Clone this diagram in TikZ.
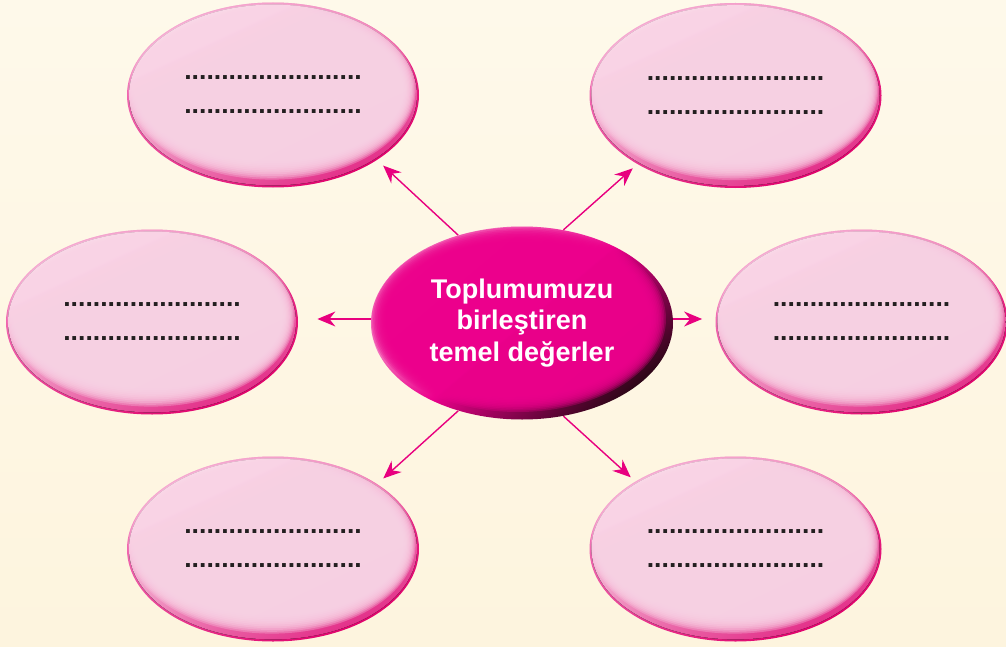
\documentclass[tikz,border=0pt]{standalone}
\usepackage{fontspec}
\setmainfont{Liberation Sans}
\usepackage{tikz}
\usetikzlibrary{arrows.meta,shapes.geometric,positioning}

\definecolor{bgtop}{HTML}{FEF9EA}
\definecolor{bgbot}{HTML}{FDF1D6}
\definecolor{petalbg}{HTML}{F9D3E5}
\definecolor{petaledgetop}{HTML}{F27DBD}
\definecolor{petaledgebot}{HTML}{E0006B}
\definecolor{petalrimtop}{HTML}{FDF2F7}
\definecolor{petalrimbot}{HTML}{E22A86}
\definecolor{hubmain}{HTML}{EC008C}
\definecolor{hubhi}{HTML}{FAC0DE}
\definecolor{hubdark}{HTML}{2E0618}
\definecolor{arrowpink}{HTML}{E8007F}
\definecolor{dotgray}{HTML}{231F20}

\newcommand{\dline}{........................}

\tikzset{
  petal/.style={ellipse, minimum width=146pt, minimum height=92.5pt, inner sep=0pt,
    top color=petaledgetop, bottom color=petaledgebot, shading angle=30,
    path picture={
      \fill[top color=petalrimtop, bottom color=petalrimbot, shading angle=25]
        (path picture bounding box.center) ellipse [x radius=72pt, y radius=45.2pt];
      \foreach \k in {0,...,10}
        \fill[petalbg, fill opacity=0.3] ([shift={(-0.5pt,2.5pt)}]path picture bounding box.center)
          ellipse [x radius={71.8pt-\k*0.6pt}, y radius={44.8pt-\k*0.9pt}];
    },
    text=dotgray, font=\bfseries\fontsize{13.3}{17}\selectfont, align=center},
  hub/.style={ellipse, minimum width=151pt, minimum height=96.5pt, inner sep=0pt,
    top color=hubhi, bottom color=hubdark, middle color=hubmain, shading angle=40,
    path picture={
      \foreach \k in {0,...,10}
        \fill[hubmain, fill opacity=0.3] ([shift={(-2pt,2pt)}]path picture bounding box.center)
          ellipse [x radius={74pt-\k*0.8pt}, y radius={46.5pt-\k*0.8pt}];
    },
    text=white, font=\bfseries\fontsize{13.5}{15.75}\selectfont, align=center}
}

\begin{document}
\begin{tikzpicture}[x=0.5pt,y=-0.5pt]
 %background
  \useasboundingbox (0,0) rectangle (1006,647);
  \shade[top color=bgtop, bottom color=bgtop!40!bgbot] (0,0) rectangle (1006,647);
 %the centre
  \node[hub] (h) at (522,323) {Toplumumuzu\\birleştiren\\temel değerler};
 %the empty bubbles
  \node[petal] (tl) at (273,95) {\dline\\\dline};
  \node[petal] (tr) at (735.5,95.5) {\dline\\\dline};
  \node[petal] (ml) at (152,322) {\dline\\\dline};
  \node[petal] (mr) at (861.5,322) {\dline\\\dline};
  \node[petal] (bl) at (273,549) {\dline\\\dline};
  \node[petal] (br) at (735.5,549) {\dline\\\dline};
 %draw arrows
  \begin{scope}[every path/.style={arrowpink, line width=0.7pt, -{Stealth[length=9pt,width=7.5pt,inset=3pt]}}]
    \draw[shorten >=4pt] (h.126) -- (tl.-32);
    \draw[shorten >=3pt] (h.66) -- (tr.215);
    \draw[shorten >=9.5pt] ([yshift=2pt]h.west) -- ([yshift=2pt]h.west -| ml.east);
    \draw[shorten >=6.5pt] ([yshift=2pt]h.east) -- ([yshift=2pt]h.east -| mr.west);
    \draw[shorten >=4pt] (h.234) -- (bl.32);
    \draw[shorten >=3pt] (h.-66) -- (br.146);
  \end{scope}
\end{tikzpicture}
\end{document}
